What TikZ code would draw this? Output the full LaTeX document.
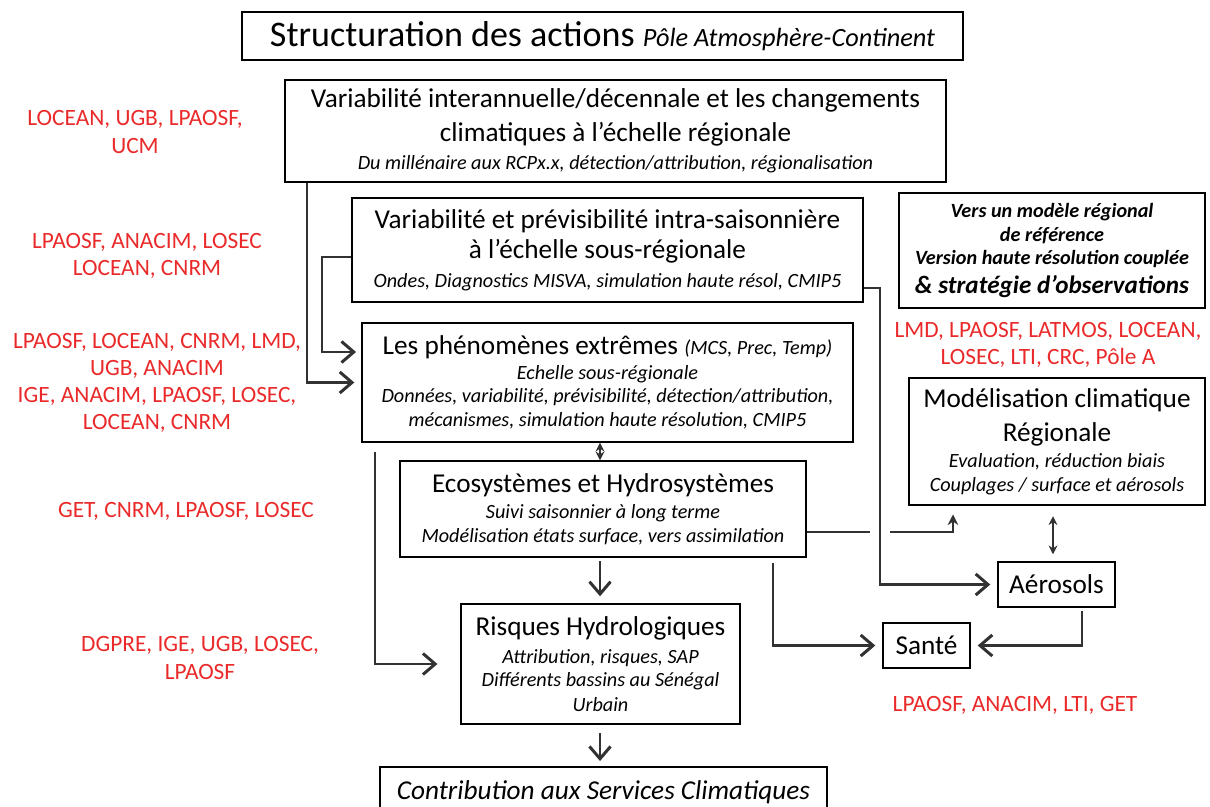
\documentclass[tikz,border=0pt]{standalone}
\usepackage{fontspec}
\setmainfont{Carlito}
\usetikzlibrary{arrows.meta}

\definecolor{labred}{RGB}{234,42,42}
\definecolor{linec}{RGB}{50,50,50}
\newcommand{\sm}{\fontsize{11.5}{13}\selectfont\itshape}

\begin{document}
\begin{tikzpicture}
  [x=0.02cm,y=-0.02cm,
   box/.style={draw,line width=0.8pt,align=center,inner sep=0pt,
               font=\fontsize{15.5}{13}\selectfont},
   lab/.style={text=labred,align=center,font=\fontsize{13.3}{15.5}\selectfont}]

  \tikzstyle{arr} = [draw=linec,line width=1.3pt,
                     -{Straight Barb[length=7pt,width=12pt,line width=1.7pt]}]
  \tikzstyle{tri} = [draw=linec,line width=1.2pt,-{Stealth[length=6pt,width=6pt]}]
  \tikzstyle{dtri} = [draw=linec,line width=1.2pt,
                      {Stealth[length=5pt,width=5pt]}-{Stealth[length=5pt,width=5pt]}]

  \useasboundingbox (0,0) rectangle (1210,807);

  \node[box,minimum width=14.42cm,minimum height=0.96cm,font=\fontsize{20.5}{13}\selectfont]
       (T) at (602.5,36)
       {Structuration des actions {\fontsize{15}{13}\selectfont\itshape Pôle Atmosphère-Continent}};

  \node[box,minimum width=13.22cm,minimum height=2.04cm] (A) at (615.5,131)
       {Variabilité interannuelle/décennale et les changements\\[5pt]
        climatiques à l'échelle régionale\\[3pt]
        {\sm Du millénaire aux RCPx.x, détection/attribution, régionalisation}};
  \node[box,minimum width=10.22cm,minimum height=2.08cm] (B) at (607.5,250)
       {Variabilité et prévisibilité intra-saisonnière\\[3pt]
        à l'échelle sous-régionale\\[3.4pt]
        {\sm Ondes, Diagnostics MISVA, simulation haute résol, CMIP5}};
  \node[box,minimum width=6.12cm,minimum height=2.30cm,
        font=\fontsize{11.5}{13}\selectfont\bfseries\itshape] (V) at (1052,250.5)
       {Vers un modèle régional\\[0.6pt]
        de référence\\
        Version haute résolution couplée\\[3.4pt]
        {\fontsize{14.3}{13}\selectfont \& stratégie d'observations}};
  \node[box,minimum width=9.82cm,minimum height=2.38cm] (C) at (607.5,382.5)
       {Les phénomènes extrêmes {\sm (MCS, Prec, Temp)}\\[1.2pt]
        {\sm Echelle sous-régionale}\\
        {\sm Données, variabilité, prévisibilité, détection/attribution,}\\[0.6pt]
        {\sm mécanismes, simulation haute résolution, CMIP5}};
  \node[box,minimum width=5.92cm,minimum height=2.54cm] (D) at (1057,441.5)
       {Modélisation climatique\\[5pt]
        Régionale\\[1.7pt]
        {\sm Evaluation, réduction biais}\\[0.6pt]
        {\sm Couplages / surface et aérosols}};
  \node[box,minimum width=8.12cm,minimum height=1.92cm] (E) at (603,509)
       {Ecosystèmes et Hydrosystèmes\\[1.7pt]
        {\sm Suivi saisonnier à long terme}\\[0.6pt]
        {\sm Modélisation états surface, vers assimilation}};
  \node[box,minimum width=2.34cm,minimum height=0.90cm] (F) at (1056.5,584.5) {Aérosols};
  \node[box,minimum width=1.74cm,minimum height=0.90cm] (G) at (926.5,645.5) {Santé};
  \node[box,minimum width=5.58cm,minimum height=2.40cm] (H) at (600.5,664)
       {Risques Hydrologiques\\[3pt]
        {\sm Attribution, risques, SAP}\\
        {\sm Différents bassins au Sénégal}\\[1.2pt]
        {\sm Urbain}};
  \node[box,minimum width=8.94cm,minimum height=1.00cm] (I) at (603.5,792)
       {\itshape Contribution aux Services Climatiques};

  \node[lab] (l1) at (135,132)  {LOCEAN, UGB, LPAOSF,\\UCM};
  \node[lab] (l2) at (147,256)  {LPAOSF, ANACIM, LOSEC\\LOCEAN, CNRM};
  \node[lab] (l3) at (157,383)  {LPAOSF, LOCEAN, CNRM, LMD,\\UGB, ANACIM\\
                                 IGE, ANACIM, LPAOSF, LOSEC,\\LOCEAN, CNRM};
  \node[lab] (l4) at (186,511)  {GET, CNRM, LPAOSF, LOSEC};
  \node[lab] (l5) at (200,658)  {DGPRE, IGE, UGB, LOSEC,\\LPAOSF};
  \node[lab] (l6) at (1048,345) {LMD, LPAOSF, LATMOS, LOCEAN,\\LOSEC, LTI, CRC, Pôle A};
  \node[lab] (l7) at (1015,705) {LPAOSF, ANACIM, LTI, GET};

  \coordinate (p1) at (307,0);
  \coordinate (p2) at (322,257);
  \coordinate (p3) at (0,352);
  \coordinate (p4) at (880,288);
  \coordinate (p5) at (600,0);
  \coordinate (p6) at (375,452);
  \coordinate (p7) at (953,532);
  \coordinate (g1) at (870,532);
  \coordinate (g2) at (890,532);
  \coordinate (p8) at (773,563);
  \coordinate (p9) at (1082,0);
  \coordinate (p10) at (1053,0);

  \draw[arr,shorten >=4pt] (p1 |- A.south) -- (p1 |- C.west) -- (C.west);
  \draw[arr,shorten >=3pt] (B.west |- p2) -- (p2) |- (C.west |- p3);
  \draw[arr,shorten >=4pt] (B.east |- p4) -- (p4) |- (F.west);
  \draw[dtri] (p5 |- C.south) -- (p5 |- E.north);
  \draw[arr,shorten >=13pt] (p6) |- (H.west);
  \draw[arr,shorten <=2pt,shorten >=4pt] (p5 |- E.south) -- (p5 |- H.north);
  \draw[arr,shorten <=5pt,shorten >=3pt] (p5 |- H.south) -- (p5 |- I.north);
  \draw[draw=linec,line width=1.2pt] (E.east |- p7) -- (g1);
  \draw[tri,shorten >=5pt] (g2) -- (p7) -- (p7 |- D.south);
  \draw[arr,shorten >=4pt] (p8) |- (G.west);
  \draw[arr,shorten <=2pt,shorten >=4pt] (p9 |- F.south) |- (G.east);
  \draw[dtri,shorten <=6pt,shorten >=4pt] (p10 |- D.south) -- (p10 |- F.north);
\end{tikzpicture}
\end{document}
